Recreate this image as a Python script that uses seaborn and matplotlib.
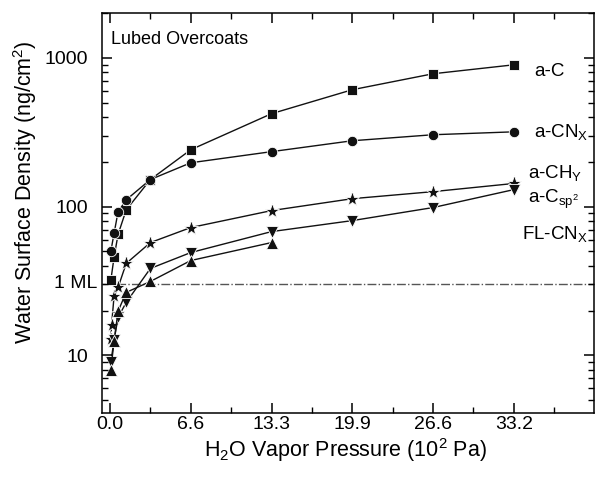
import matplotlib
matplotlib.use("Agg")
import matplotlib.pyplot as plt
import matplotlib.ticker as mticker
import matplotlib.transforms as mtransforms
import seaborn as sns

plt.rcParams['font.family'] = ['Liberation Sans', 'DejaVu Sans']
plt.rcParams['mathtext.fontset'] = 'custom'
plt.rcParams['mathtext.rm'] = 'Liberation Sans'
plt.rcParams['mathtext.it'] = 'Liberation Sans:italic'

# H2O vapor pressure (10^2 Pa) vs water surface density (ng/cm^2)
ac_x = [0.066, 0.33, 0.66, 1.33, 3.32, 6.64, 13.28, 19.92, 26.56, 33.2]
ac_y = [32, 45.5, 65, 95, 152, 241, 421, 610, 781, 897]

acn_x = [0.066, 0.33, 0.66, 1.33, 3.32, 6.64, 13.28, 19.92, 26.56, 33.2]
acn_y = [50, 66, 92, 111, 152, 197, 234, 277, 304, 318]

ach_x = [0.066, 0.13, 0.33, 0.66, 1.33, 3.32, 6.64, 13.28, 19.92, 26.56, 33.2]
ach_y = [12.8, 16.1, 24.9, 28.6, 41.5, 57.3, 72.3, 94, 113, 126, 143]

acsp_x = [0.066, 0.33, 0.66, 1.33, 3.32, 6.64, 13.28, 19.92, 26.56, 33.2]
acsp_y = [9.0, 12.6, 18.0, 22.7, 38.4, 49.1, 67.9, 80.5, 98.5, 130]

flcn_x = [0.066, 0.33, 0.66, 1.33, 3.32, 6.64, 13.28]
flcn_y = [8.0, 12.4, 19.8, 26.5, 31.4, 43.4, 57.3]

one_ml = 30.4

x_ticks = [0, 6.64, 13.28, 19.92, 26.56, 33.2]
x_ticklabels = ['0.0', '6.6', '13.3', '19.9', '26.6', '33.2']
x_minor = [3.32, 9.96, 16.6, 23.24, 29.88, 36.52]

series = [
    (ac_x, ac_y, 's', 7),
    (acn_x, acn_y, 'o', 7.5),
    (ach_x, ach_y, '*', 11),
    (acsp_x, acsp_y, 'v', 8.5),
    (flcn_x, flcn_y, '^', 8.5),
]

fig = plt.figure(figsize=(5.95, 4.79), dpi=100)
ax = fig.add_axes([102 / 595, 1 - 413 / 479, 492 / 595, 400 / 479])
ax.set_yscale('log')
ax.set_axisbelow(False)

for xs, ys, mk, ms in series:
    sns.lineplot(x=xs, y=ys, marker=mk, markersize=ms, color='#111111',
                 linewidth=1, markeredgecolor='white', markeredgewidth=0.6,
                 ax=ax, legend=False)

ax.axhline(one_ml, color='#555555', linestyle='-.', linewidth=1, zorder=0)

ax.set_xlim(-0.66, 39.8)
ax.set_ylim(4.1, 2000)

ax.set_xticks(x_ticks)
ax.set_xticklabels(x_ticklabels)
ax.xaxis.set_minor_locator(mticker.FixedLocator(x_minor))

ax.set_yticks([10, 100, 1000])
ax.set_yticklabels(['10', '100', '1000'])
ax.yaxis.set_minor_locator(mticker.LogLocator(base=10, subs=[2, 3, 4, 5, 6, 7, 8, 9], numticks=30))
ax.yaxis.set_minor_formatter(mticker.NullFormatter())

ax.tick_params(which='both', direction='in', top=True, right=True,
               bottom=True, left=True, labelsize=14, color='black')
ax.tick_params(which='major', length=7, width=1.1)
ax.tick_params(which='minor', length=4, width=1)
ax.tick_params(axis='y', which='major', pad=10)
ax.tick_params(axis='x', which='major', pad=2.5)
for sp in ax.spines.values():
    sp.set_linewidth(1.1)
    sp.set_color('black')

trans = mtransforms.blended_transform_factory(ax.transAxes, ax.transData)
ax.text(-0.01, one_ml, '1 ML', transform=trans, ha='right', va='center', fontsize=14)

ax.set_xlabel('H$_2$O Vapor Pressure (10$^2$ Pa)', fontsize=15.5)
ax.set_ylabel('Water Surface Density (ng/cm$^2$)', fontsize=15.5)
ax.xaxis.set_label_coords(0.495, -0.058)
ax.yaxis.set_label_coords(-0.128, 0.5525)

ax.text(0.018, 0.935, 'Lubed Overcoats', transform=ax.transAxes, fontsize=13,
        ha='left', va='center')

lx = [34.9, 34.9, 34.4, 34.4, 33.9]
ly = [805, 318, 169, 111, 65]
names = ['a-C', 'a-CN$_\\mathrm{X}$', 'a-CH$_\\mathrm{Y}$', 'a-C$_\\mathrm{sp^2}$', 'FL-CN$_\\mathrm{X}$']
for x, y, s in zip(lx, ly, names):
    ax.text(x, y, s, fontsize=13.5, ha='left', va='center')

fig.savefig('out.png', dpi=100)
